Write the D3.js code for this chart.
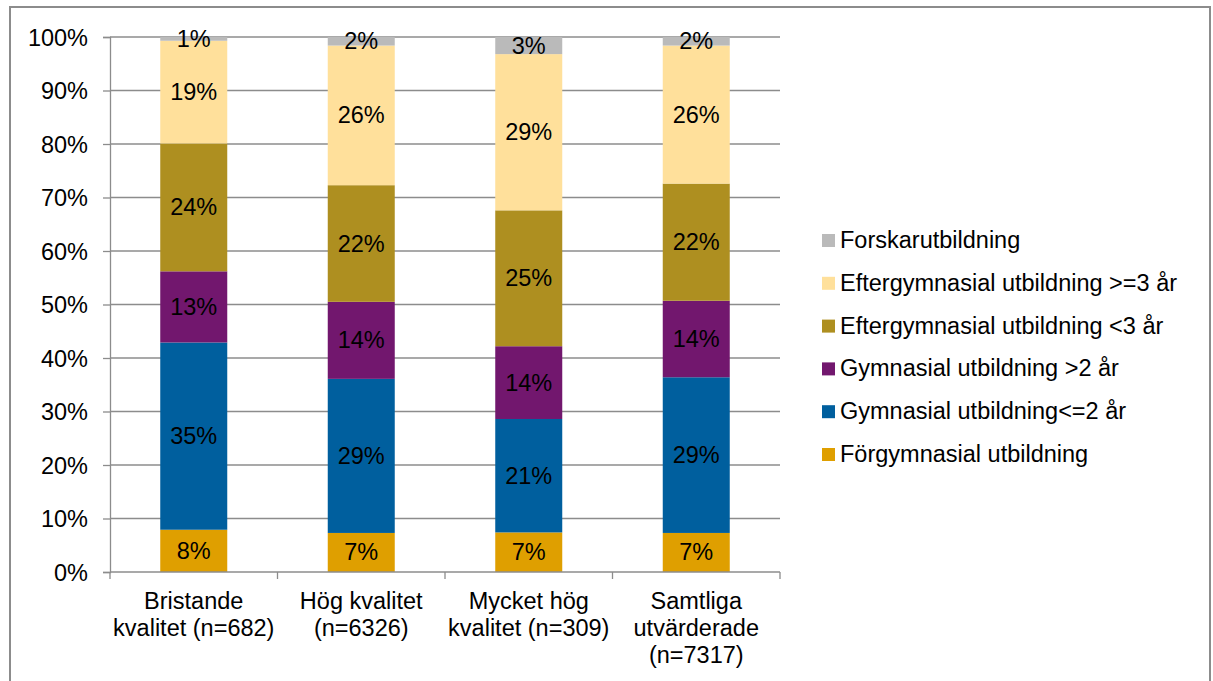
<!DOCTYPE html>
<html>
<head>
<meta charset="utf-8">
<script src="https://cdn.jsdelivr.net/npm/d3@7"></script>
<style>
  body { margin: 0; background: #fff; }
  svg text { font-family: "Liberation Sans", Arial, sans-serif; fill: #000; }
</style>
</head>
<body>
<svg id="chart" width="1213" height="681"></svg>
<script>
// categories (x axis), each label split into lines
const categories = [
  ["Bristande", "kvalitet (n=682)"],
  ["Hög kvalitet", "(n=6326)"],
  ["Mycket hög", "kvalitet (n=309)"],
  ["Samtliga", "utvärderade", "(n=7317)"]
];

// series, bottom to top of the stack
const seriesNames = [
  "Förgymnasial utbildning",
  "Gymnasial utbildning<=2 år",
  "Gymnasial utbildning >2 år",
  "Eftergymnasial utbildning <3 år",
  "Eftergymnasial utbildning >=3 år",
  "Forskarutbildning"
];
const seriesColors = ["#df9f00", "#005f9e", "#72176e", "#ae8f20", "#ffe09b", "#bababa"];

// percentage values per series, one per category
const forgymnasial = [7.9, 7.3, 7.4, 7.3];
const gymnasialLe2 = [35.0, 28.8, 21.2, 29.1];
const gymnasialGt2 = [13.3, 14.4, 13.6, 14.3];
const eftergymLt3 = [23.9, 21.8, 25.4, 21.9];
const eftergymGe3 = [19.2, 26.1, 29.2, 25.8];
const forskar = [0.7, 1.6, 3.2, 1.6];

const yTicks = [0, 10, 20, 30, 40, 50, 60, 70, 80, 90, 100];

const seriesValues = [forgymnasial, gymnasialLe2, gymnasialGt2, eftergymLt3, eftergymGe3, forskar];

var fontSize = "23.5px";
var svg = d3.select("#chart");

// outer frame
svg.append("rect")
  .attr("x", 10).attr("y", 7)
  .attr("width", 1200).attr("height", 690)
  .attr("fill", "none")
  .attr("stroke", "#8c8c8c")
  .attr("stroke-width", 2);

var margin = { top: 37, left: 110 },
  width = 670,
  height = 535;

var g = svg.append("g")
  .attr("transform", "translate(" + margin.left + "," + margin.top + ")");

var x = d3.scaleBand()
  .domain(d3.range(categories.length))
  .range([0, width])
  .paddingInner(0.6).paddingOuter(0.3);
var xOuter = d3.scaleBand().domain(d3.range(categories.length)).range([0, width]);
var y = d3.scaleLinear().domain([0, 100]).range([height, 0]);

// gridlines
g.selectAll(".grid")
  .data(yTicks.slice(1))
  .enter()
  .append("line")
  .attr("x1", 0).attr("x2", width)
  .attr("y1", d => y(d)).attr("y2", d => y(d))
  .attr("stroke", "#8c8c8c")
  .attr("stroke-width", 1.3);

// stacked data
var rows = categories.map((c, i) => {
  var r = { i: i };
  seriesNames.forEach((s, k) => { r[s] = seriesValues[k][i]; });
  return r;
});
var stacked = d3.stack().keys(seriesNames)(rows);

var layers = g.selectAll(".layer")
  .data(stacked)
  .enter()
  .append("g")
  .attr("fill", (d, k) => seriesColors[k]);

layers.selectAll("rect")
  .data(d => d)
  .enter()
  .append("rect")
  .attr("x", d => x(d.data.i))
  .attr("width", x.bandwidth())
  .attr("y", d => y(d[1]))
  .attr("height", d => y(d[0]) - y(d[1]));

layers.selectAll("text")
  .data(d => d)
  .enter()
  .append("text")
  .attr("x", d => x(d.data.i) + x.bandwidth() / 2)
  .attr("y", d => (y(d[0]) + y(d[1])) / 2 + 8)
  .attr("text-anchor", "middle")
  .style("font-size", fontSize)
  .text(d => Math.round(d[1] - d[0]) + "%");

// y axis
var yAxis = g.append("g")
  .call(d3.axisLeft(y).tickValues(yTicks).tickSize(7).tickFormat(d => d + "%"));
yAxis.select(".domain").attr("stroke", "#8c8c8c").attr("stroke-width", 1.3);
yAxis.selectAll(".tick line").attr("stroke", "#8c8c8c").attr("stroke-width", 1.3);
yAxis.selectAll(".tick text")
  .attr("x", -22)
  .attr("dy", "0.35em")
  .style("font-size", fontSize);

// x axis
var xAxis = g.append("g")
  .attr("transform", "translate(0," + height + ")");
xAxis.append("line")
  .attr("x1", 0).attr("x2", width)
  .attr("stroke", "#8c8c8c").attr("stroke-width", 1.3);
xAxis.selectAll(".xtick")
  .data(d3.range(categories.length + 1))
  .enter()
  .append("line")
  .attr("x1", d => d * xOuter.bandwidth())
  .attr("x2", d => d * xOuter.bandwidth())
  .attr("y1", 0).attr("y2", 7)
  .attr("stroke", "#8c8c8c").attr("stroke-width", 1.3);

xAxis.selectAll(".xlabel")
  .data(categories)
  .enter()
  .append("text")
  .attr("text-anchor", "middle")
  .attr("transform", (d, i) => "translate(" + (xOuter(i) + xOuter.bandwidth() / 2) + ",0)")
  .style("font-size", fontSize)
  .selectAll("tspan")
  .data(d => d)
  .enter()
  .append("tspan")
  .attr("x", 0)
  .attr("y", (d, j) => 37 + j * 27)
  .text(d => d);

// legend, top entry is the top of the stack
var legend = svg.append("g")
  .attr("transform", "translate(822,240)");
var legendItems = legend.selectAll(".item")
  .data(seriesNames.slice().reverse())
  .enter()
  .append("g")
  .attr("transform", (d, i) => "translate(0," + i * 42.8 + ")");
legendItems.append("rect")
  .attr("x", 0).attr("y", -6)
  .attr("width", 13).attr("height", 13)
  .attr("fill", d => seriesColors[seriesNames.indexOf(d)]);
legendItems.append("text")
  .attr("x", 18).attr("y", 8)
  .style("font-size", fontSize)
  .text(d => d);
</script>
</body>
</html>
